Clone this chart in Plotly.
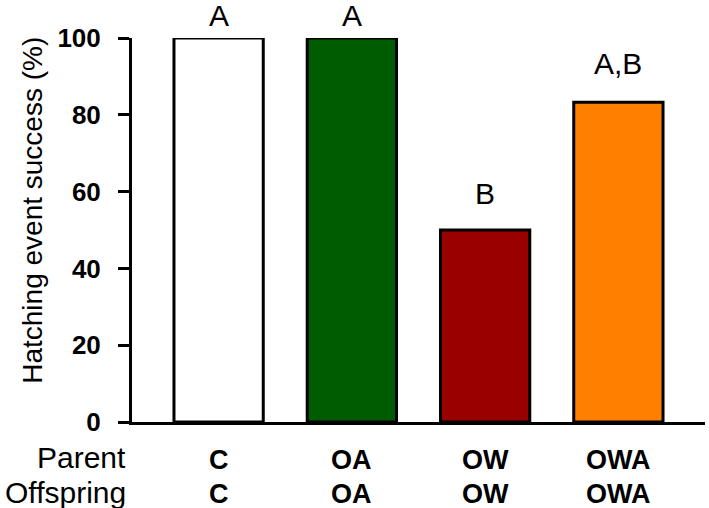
import plotly.graph_objects as go

groups = ["C", "OA", "OW", "OWA"]
parent = ["C", "OA", "OW", "OWA"]
offspring = ["C", "OA", "OW", "OWA"]
success = [100, 100, 50, 83.3]
letters = ["A", "A", "B", "A,B"]
colors = ["#FFFFFF", "#005C00", "#990000", "#FF8000"]
yticks = [0, 20, 40, 60, 80, 100]
letter_shift = [23, 23, 37, 39]  # pixels above bar top

FONT = "Liberation Sans"
xs = list(range(len(groups)))

fig = go.Figure()
fig.add_trace(go.Bar(
    x=xs, y=success, width=0.67,
    marker=dict(color=colors, line=dict(color="black", width=3)),
    showlegend=False, hoverinfo="skip",
))

annotations = []
for i in xs:
    annotations.append(dict(x=i, y=success[i], xref="x", yref="y", text=letters[i],
                            showarrow=False, yshift=letter_shift[i], yanchor="middle",
                            font=dict(family=FONT, size=30, color="black")))
    annotations.append(dict(x=i, y=0, xref="x", yref="y", text="<b>%s</b>" % parent[i],
                            showarrow=False, yshift=-38, yanchor="middle",
                            font=dict(family=FONT, size=27, color="black")))
    annotations.append(dict(x=i, y=0, xref="x", yref="y", text="<b>%s</b>" % offspring[i],
                            showarrow=False, yshift=-72, yanchor="middle",
                            font=dict(family=FONT, size=27, color="black")))
annotations.append(dict(x=0, y=0, xref="paper", yref="y", text="Parent", showarrow=False,
                        xanchor="right", xshift=-4, yshift=-35, yanchor="middle",
                        font=dict(family=FONT, size=30, color="black")))
annotations.append(dict(x=0, y=0, xref="paper", yref="y", text="Offspring", showarrow=False,
                        xanchor="right", xshift=-4, yshift=-70, yanchor="middle",
                        font=dict(family=FONT, size=30, color="black")))
annotations.append(dict(x=0, y=0.55, xref="paper", yref="paper",
                        text="Hatching event success (%)", showarrow=False, textangle=-90,
                        xanchor="center", yanchor="middle", xshift=-99,
                        font=dict(family=FONT, size=28, color="black")))

fig.update_layout(
    width=709, height=508,
    margin=dict(l=132, r=4, t=38, b=86),
    plot_bgcolor="white", paper_bgcolor="white",
    annotations=annotations,
    xaxis=dict(range=[-0.65, 3.65], showticklabels=False, ticks="", showgrid=False,
               zeroline=False, showline=True, linecolor="black", linewidth=3),
    yaxis=dict(range=[0, 100], tickvals=yticks, ticktext=["<b>%d</b>" % v for v in yticks],
               ticks="outside", ticklen=11, tickwidth=3, tickcolor="black",
               ticklabelstandoff=12,
               showgrid=False, zeroline=False, showline=True, linecolor="black", linewidth=3,
               tickfont=dict(family=FONT, size=26, color="black")),
)

fig.write_html("out.html", config={"displayModeBar": False},
               post_script="document.body.style.margin='0';document.body.style.overflow='hidden';")
